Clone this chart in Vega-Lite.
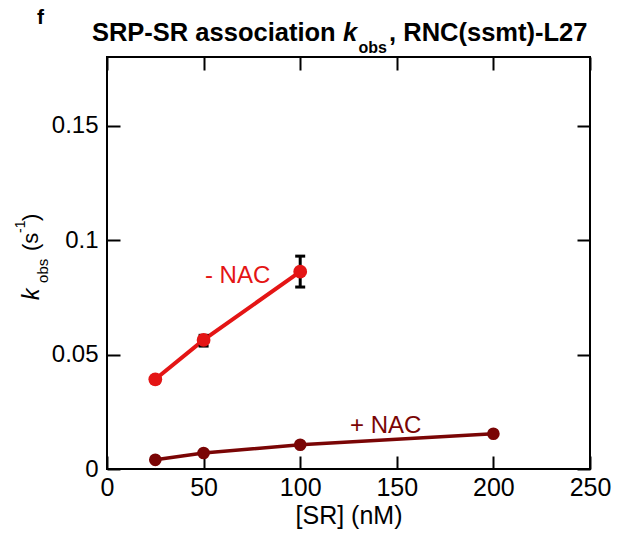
{
  "$schema": "https://vega.github.io/schema/vega-lite/v6.json",
  "width": 483,
  "height": 412,
  "autosize": {"type": "none"},
  "padding": {"left": 107, "top": 57, "right": 34, "bottom": 64},
  "background": "white",
  "config": {
    "view": {"stroke": "black", "strokeWidth": 2},
    "font": "Liberation Sans",
    "axis": {"labelFont": "Liberation Sans", "titleFont": "Liberation Sans", "labelColor": "black", "titleColor": "black", "tickColor": "black", "grid": false, "domain": false}
  },
  "datasets": {
    "pts": [
      {"cond": "- NAC", "SR": 25, "kobs": 0.0392, "lo": 0.0378, "hi": 0.0404},
      {"cond": "- NAC", "SR": 50, "kobs": 0.0564, "lo": 0.0537, "hi": 0.0584},
      {"cond": "- NAC", "SR": 100, "kobs": 0.0862, "lo": 0.0795, "hi": 0.0930},
      {"cond": "+ NAC", "SR": 25, "kobs": 0.0040},
      {"cond": "+ NAC", "SR": 50, "kobs": 0.0070},
      {"cond": "+ NAC", "SR": 100, "kobs": 0.0106},
      {"cond": "+ NAC", "SR": 200, "kobs": 0.0154}
    ],
    "titleMain": [
      {"t": "SRP-SR association", "SR": -7.8, "kobs": 0.187},
      {"t": ", RNC(ssmt)-L27", "SR": 146, "kobs": 0.187}
    ],
    "titleK": [{"t": "k", "SR": 122.2, "kobs": 0.187}],
    "titleSub": [{"t": "obs", "SR": 130.2, "kobs": 0.1817}],
    "panel": [{"t": "f", "SR": -36.2, "kobs": 0.1942}],
    "ylabMain": [
      {"t": "(s", "SR": -35.7, "kobs": 0.0952},
      {"t": ")", "SR": -35.7, "kobs": 0.1084}
    ],
    "ylabK": [{"t": "k", "SR": -35.0, "kobs": 0.0738}],
    "ylabSub": [{"t": "obs", "SR": -30.3, "kobs": 0.0813}],
    "ylabSup": [{"t": "-1", "SR": -42.6, "kobs": 0.1031}],
    "nacLabels": [
      {"t": "- NAC", "cond": "- NAC", "SR": 50.7, "kobs": 0.0813},
      {"t": "+ NAC", "cond": "+ NAC", "SR": 125.8, "kobs": 0.0157}
    ]
  },
  "encoding": {
    "x": {"field": "SR", "type": "quantitative", "scale": {"domain": [0, 250], "nice": false, "zero": false}, "axis": null},
    "y": {"field": "kobs", "type": "quantitative", "scale": {"domain": [0, 0.18], "nice": false, "zero": false}, "axis": null}
  },
  "resolve": {"axis": {"x": "independent", "y": "independent"}},
  "layer": [
    {
      "data": {"name": "pts"},
      "transform": [{"filter": "datum.cond === '- NAC'"}],
      "mark": {"type": "line", "color": "#e41515", "strokeWidth": 4},
      "encoding": {
        "x": {"field": "SR", "type": "quantitative", "axis": {"orient": "bottom", "values": [0, 50, 100, 150, 200, 250], "tickSize": -13, "tickWidth": 2, "labelFontSize": 25, "labelPadding": 19, "labelFlush": false, "title": "[SR] (nM)", "titleFontSize": 25, "titleFontWeight": "normal", "titlePadding": 3}},
        "y": {"field": "kobs", "type": "quantitative", "axis": {"orient": "left", "values": [0, 0.05, 0.1, 0.15], "format": "~g", "tickSize": -13, "tickWidth": 2, "labelFontSize": 24, "labelPadding": 22, "labelFlush": false, "title": null}}
      }
    },
    {
      "data": {"name": "pts"},
      "transform": [{"filter": "datum.cond === '+ NAC'"}],
      "mark": {"type": "line", "color": "#7a0505", "strokeWidth": 3.5},
      "encoding": {
        "x": {"field": "SR", "type": "quantitative", "axis": {"orient": "top", "values": [0, 50, 100, 150, 200, 250], "tickSize": -13, "tickWidth": 2, "labels": false, "title": null}},
        "y": {"field": "kobs", "type": "quantitative", "axis": {"orient": "right", "values": [0, 0.05, 0.1, 0.15], "tickSize": -13, "tickWidth": 2, "labels": false, "title": null}}
      }
    },
    {
      "data": {"name": "pts"},
      "transform": [{"filter": "isValid(datum.lo)"}],
      "mark": {"type": "rule", "color": "black", "strokeWidth": 3},
      "encoding": {
        "y": {"field": "lo", "type": "quantitative"},
        "y2": {"field": "hi"}
      }
    },
    {
      "data": {"name": "pts"},
      "transform": [{"filter": "isValid(datum.lo)"}],
      "mark": {"type": "tick", "orient": "horizontal", "color": "black", "thickness": 3, "size": 10, "opacity": 1},
      "encoding": {"y": {"field": "lo", "type": "quantitative"}}
    },
    {
      "data": {"name": "pts"},
      "transform": [{"filter": "isValid(datum.hi)"}],
      "mark": {"type": "tick", "orient": "horizontal", "color": "black", "thickness": 3, "size": 10, "opacity": 1},
      "encoding": {"y": {"field": "hi", "type": "quantitative"}}
    },
    {
      "data": {"name": "pts"},
      "mark": {"type": "circle", "opacity": 1},
      "encoding": {
        "size": {"field": "cond", "type": "nominal", "scale": {"domain": ["- NAC", "+ NAC"], "range": [190, 160]}, "legend": null},
        "color": {"field": "cond", "type": "nominal", "scale": {"domain": ["- NAC", "+ NAC"], "range": ["#e41515", "#7a0505"]}, "legend": null}
      }
    },
    {
      "data": {"name": "nacLabels"},
      "mark": {"type": "text", "align": "left", "baseline": "alphabetic", "fontSize": 24, "font": "Liberation Sans"},
      "encoding": {
        "text": {"field": "t"},
        "color": {"field": "cond", "type": "nominal", "legend": null}
      }
    },
    {
      "data": {"name": "titleMain"},
      "mark": {"type": "text", "align": "left", "baseline": "alphabetic", "fontSize": 25.5, "fontWeight": "bold", "font": "Liberation Sans", "color": "black"},
      "encoding": {"text": {"field": "t"}}
    },
    {
      "data": {"name": "titleK"},
      "mark": {"type": "text", "align": "left", "baseline": "alphabetic", "fontSize": 25.5, "fontWeight": "bold", "fontStyle": "italic", "font": "Liberation Sans", "color": "black"},
      "encoding": {"text": {"field": "t"}}
    },
    {
      "data": {"name": "titleSub"},
      "mark": {"type": "text", "align": "left", "baseline": "alphabetic", "fontSize": 16, "fontWeight": "bold", "font": "Liberation Sans", "color": "black"},
      "encoding": {"text": {"field": "t"}}
    },
    {
      "data": {"name": "panel"},
      "mark": {"type": "text", "align": "left", "baseline": "alphabetic", "fontSize": 21, "fontWeight": "bold", "font": "Liberation Sans", "color": "black"},
      "encoding": {"text": {"field": "t"}}
    },
    {
      "data": {"name": "ylabMain"},
      "mark": {"type": "text", "align": "left", "baseline": "alphabetic", "angle": 270, "fontSize": 22, "font": "Liberation Sans", "color": "black"},
      "encoding": {"text": {"field": "t"}}
    },
    {
      "data": {"name": "ylabK"},
      "mark": {"type": "text", "align": "left", "baseline": "alphabetic", "angle": 270, "fontSize": 23, "fontStyle": "italic", "font": "Liberation Sans", "color": "black"},
      "encoding": {"text": {"field": "t"}}
    },
    {
      "data": {"name": "ylabSub"},
      "mark": {"type": "text", "align": "left", "baseline": "alphabetic", "angle": 270, "fontSize": 15, "font": "Liberation Sans", "color": "black"},
      "encoding": {"text": {"field": "t"}}
    },
    {
      "data": {"name": "ylabSup"},
      "mark": {"type": "text", "align": "left", "baseline": "alphabetic", "angle": 270, "fontSize": 14, "font": "Liberation Sans", "color": "black"},
      "encoding": {"text": {"field": "t"}}
    }
  ]
}
